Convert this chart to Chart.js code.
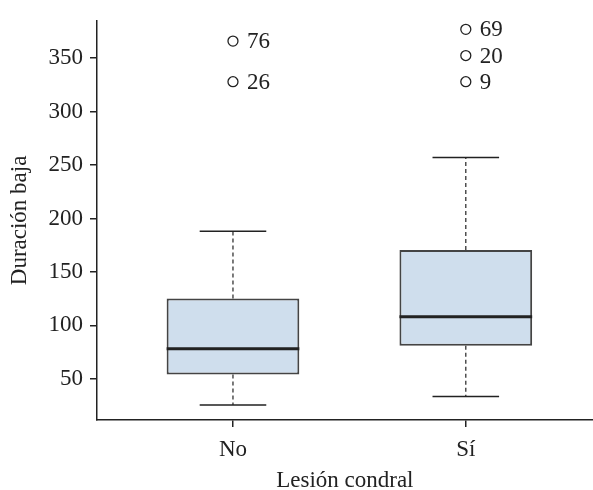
<!DOCTYPE html>
<html>
<head>
<meta charset="utf-8">
<script src="https://cdn.jsdelivr.net/npm/chart.js@4/dist/chart.umd.min.js"></script>
<style>
  body { margin: 0; background: #fff; overflow: hidden; }
</style>
</head>
<body>
<canvas id="chart" width="599" height="490"></canvas>
<script>
// values
const groups = ['No', 'Sí'];
const lowerWhisker = [25.5, 33.5];
const q1 = [54, 81];
const median = [78, 108];
const q3 = [125, 170.5];
const upperWhisker = [188, 257];
const outlierValues = [[366, 328], [377, 352.5, 328]];
const outlierIds = [['76', '26'], ['69', '20', '9']];
const yTicks = [50, 100, 150, 200, 250, 300, 350];

const BOX_HALF = 0.285;
const CAP_HALF = 0.143;
const FONT = "'Liberation Serif', 'Times New Roman', serif";
const FONT_SIZE = 23;
const INK = '#222';

// helpers to turn the summary values into line segments (null breaks the line)
function segments(fn) {
    const pts = [];
    groups.forEach((g, i) => {
        fn(i + 1, i).forEach(seg => {
            pts.push(seg[0], seg[1], { x: seg[1].x, y: null });
        });
    });
    return pts;
}

const whiskers = segments((x, i) => [
    [{ x: x, y: q3[i] }, { x: x, y: upperWhisker[i] }],
    [{ x: x, y: q1[i] }, { x: x, y: lowerWhisker[i] }]
]);
const caps = segments((x, i) => [
    [{ x: x - CAP_HALF, y: upperWhisker[i] }, { x: x + CAP_HALF, y: upperWhisker[i] }],
    [{ x: x - CAP_HALF, y: lowerWhisker[i] }, { x: x + CAP_HALF, y: lowerWhisker[i] }]
]);
const medians = segments((x, i) => [
    [{ x: x - BOX_HALF, y: median[i] }, { x: x + BOX_HALF, y: median[i] }]
]);
const outliers = [];
outlierValues.forEach((vals, i) => vals.forEach((v, j) => {
    outliers.push({ x: i + 1, y: v, id: outlierIds[i][j] });
}));

const outlierLabels = {
    id: 'outlierLabels',
    afterDatasetsDraw(chart) {
        const { ctx, scales } = chart;
        ctx.save();
        ctx.font = FONT_SIZE + 'px ' + FONT;
        ctx.fillStyle = INK;
        ctx.textAlign = 'left';
        ctx.textBaseline = 'middle';
        outliers.forEach(p => {
            ctx.fillText(p.id, scales.x.getPixelForValue(p.x) + 14, scales.y.getPixelForValue(p.y) + 1);
        });
        ctx.restore();
    }
};

new Chart(document.getElementById('chart'), {
    type: 'bar',
    data: {
        datasets: [
            {
                type: 'line',
                data: medians,
                borderColor: INK,
                borderWidth: 3,
                pointRadius: 0,
                order: 1
            },
            {
                type: 'line',
                data: caps,
                borderColor: INK,
                borderWidth: 1.5,
                pointRadius: 0,
                order: 2
            },
            {
                type: 'line',
                data: whiskers,
                borderColor: INK,
                borderWidth: 1.2,
                borderDash: [4, 3],
                pointRadius: 0,
                order: 2
            },
            {
                type: 'scatter',
                data: outliers,
                pointRadius: 5,
                pointBorderWidth: 1.3,
                pointBackgroundColor: '#fff',
                pointBorderColor: INK,
                order: 1
            },
            {
                type: 'bar',
                data: groups.map((g, i) => ({ x: i + 1, y: [q1[i], q3[i]] })),
                backgroundColor: '#cfdeed',
                borderColor: '#444',
                borderWidth: 2,
                borderSkipped: false,
                barPercentage: BOX_HALF * 2,
                categoryPercentage: 1,
                order: 3
            }
        ]
    },
    options: {
        responsive: false,
        animation: false,
        layout: { padding: { top: 14, right: 0, left: 0, bottom: 0 } },
        plugins: { legend: { display: false }, tooltip: { enabled: false } },
        scales: {
            x: {
                type: 'linear',
                offset: false,
                min: 0.416,
                max: 2.545,
                afterBuildTicks: s => { s.ticks = groups.map((g, i) => ({ value: i + 1 })); },
                afterFit: s => { s.height = 70; },
                ticks: {
                    callback: v => groups[v - 1],
                    color: INK,
                    font: { family: FONT, size: FONT_SIZE },
                    padding: 9,
                    maxRotation: 0
                },
                grid: { offset: false, drawOnChartArea: false, drawTicks: true, tickLength: 7, color: INK, lineWidth: 1.5 },
                border: { display: true, color: INK, width: 1.5 },
                title: {
                    display: true,
                    text: 'Lesión condral',
                    color: INK,
                    font: { family: FONT, size: FONT_SIZE },
                    padding: { top: 0, bottom: -5 }
                }
            },
            y: {
                min: 11.4,
                max: 385,
                afterBuildTicks: s => { s.ticks = yTicks.map(v => ({ value: v })); },
                afterFit: s => { s.width = 97; },
                ticks: {
                    color: INK,
                    font: { family: FONT, size: FONT_SIZE },
                    padding: 7
                },
                grid: { drawOnChartArea: false, drawTicks: true, tickLength: 7, color: INK, lineWidth: 1.5 },
                border: { display: true, color: INK, width: 1.5 },
                title: {
                    display: true,
                    text: 'Duración baja',
                    color: INK,
                    font: { family: FONT, size: FONT_SIZE },
                    padding: { top: 6, bottom: 6 }
                }
            }
        }
    },
    plugins: [outlierLabels]
});
</script>
</body>
</html>
